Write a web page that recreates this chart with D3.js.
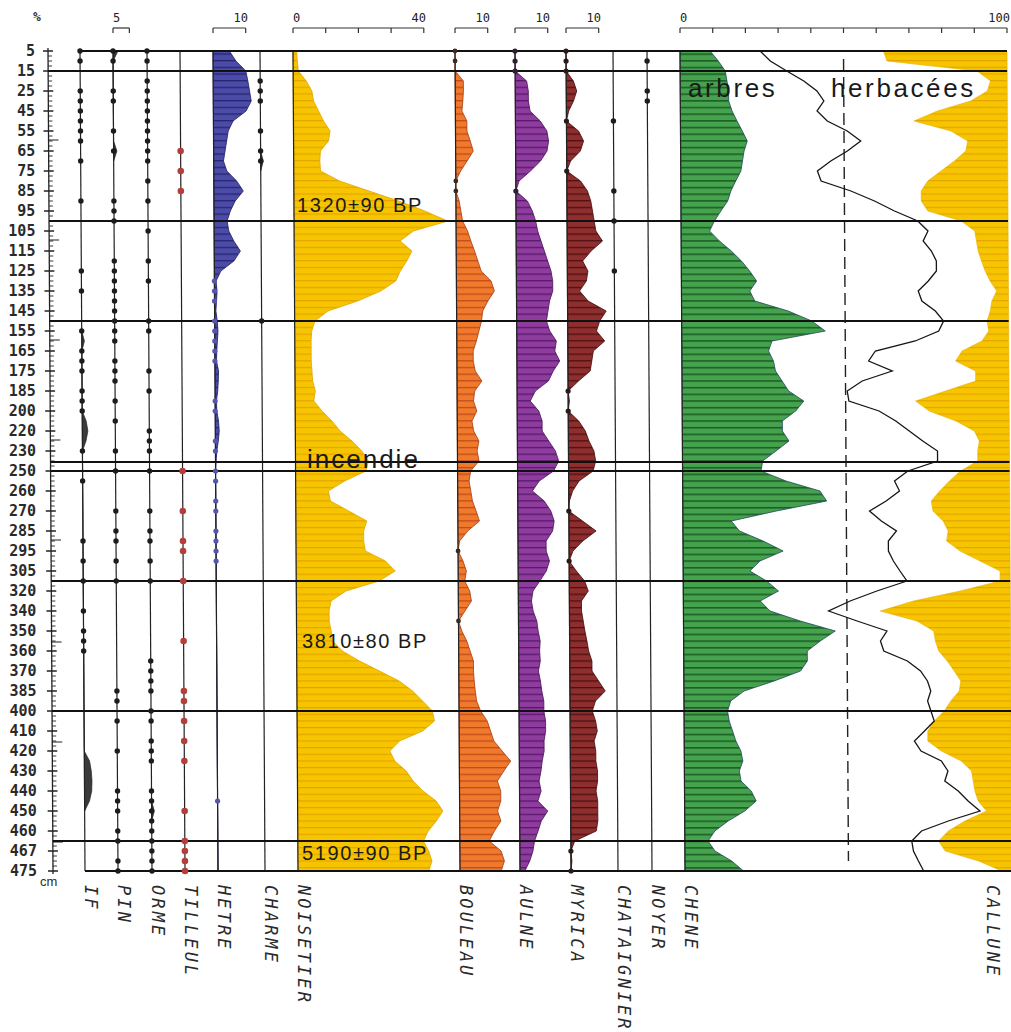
<!DOCTYPE html>
<html>
<head>
<meta charset="utf-8">
<script src="https://cdn.jsdelivr.net/npm/d3@7"></script>
<style>
body { margin: 0; background: #fff; }
svg { display: block; }
</style>
</head>
<body>
<div id="chart"></div>
<script>
var W = 1011, H = 1032;

// depth labels (cm), one every second sample level
var depthLabels = ["5","15","25","45","55","65","75","85","95","105","115","125","135","145","155","165","175","185","200","220","230",
    "250","260","270","285","295","305","320","340","350","360","370","385","400","410","420","430","440","450","460","467","475"];

// zone boundaries, in sample levels
var zoneLines = [2, 17, 27, 41.1, 42, 53, 66, 79];
var longTicks = [8.9, 18.9, 28.9, 38.9, 48.9, 59.1, 69.1, 79.1];

// percentages at each of the 83 sample levels
var hetre = [5,7,10,10.6,11.1,11.6,10,6,4.5,4,
    3.5,3,4,7,9,6.5,5,4,4.5,6,
    8,6,2,0.5,0.8,0.6,0.4,0.8,1,0.8,
    0.6,0.5,1.1,1,0.8,0.4,0.5,1,1.2,0.9,
    0.4,0.2,0,0,0,0,0,0,0,0,
    0,0,0,0,0,0,0,0,0,0,
    0,0,0,0,0,0,0,0,0,0,
    0,0,0,0,0,0,0,0,0,0,
    0,0,0];
var noisetier = [1.1,1.3,1.6,4,5.7,6.2,7.7,9.2,11.2,10.7,
    8.2,8,8.2,14,23,32,40,47,36.5,32.4,
    36,34.4,32.4,31,26.4,19.3,10.2,6.2,5.2,5,
    5,5,5.2,5.4,6.2,5.7,8.2,11.2,13.7,17.3,
    20.3,22.3,21.5,15,10,10.6,16.2,21.7,20.7,20.7,
    21.2,27.3,30.3,25.3,15.2,10.6,10,10,10.6,11,
    14,19.2,25.3,31.3,35.4,38.4,41.4,42,38.4,31.3,
    28.3,29.8,33.3,35.4,38.4,42.4,44.4,42.4,39.9,38.4,
    40,41,40];
var bouleau = [0,0,0,2.5,2.5,2.3,2,3.5,3.5,4.5,
    5.4,3.5,1.5,0,0,1,1.5,2,3.5,4.5,
    5.6,6.6,7.6,10.6,11.6,9.6,8,7.6,6.8,6,
    5,5,5.6,7.6,5.4,5,6,4.5,5,6.6,
    6,6.6,4,3.5,4,4.5,5.6,6.6,3,0.5,
    0,1.5,2.5,2,3.5,4,2,0,1,2.5,
    3.5,4.5,4.5,4.7,5,5.4,6.6,8.6,9.6,10.6,
    13.1,15.7,13.6,11.6,12.6,12.6,11.6,12.6,10.6,9,
    12.6,13.6,12.6];
var aulne = [0,0,0,3.5,4,4,4.5,7.6,9.6,10.1,
    9.6,7.6,4.5,1,0,3.5,5,6,6.6,7.6,
    8.6,9.6,10.6,11.1,11.1,10.1,9.6,9.1,10.1,12.1,
    11.6,13.1,11.1,9.6,5.6,4,6.6,7.6,7.6,9.6,
    11.6,12.6,11,6.6,4.5,8.1,10.1,11.1,10.6,8.6,
    8.6,9.6,8.6,6.6,4.5,4,4.5,5.6,6,6.6,
    6.4,6.6,6,6.6,7,7.6,7.6,8.1,8.1,7.6,
    7.6,7,6.6,6,6.6,5.6,8.6,6.6,5.6,4.5,
    4,3,1.5];
var myrica = [0,0,0,2.2,3.2,2.2,0.7,0,3.7,5.2,
    4.2,1.2,0,4.2,6.3,7.3,7.8,8.3,8.8,10.8,
    7.3,4.7,6.3,5.8,3.7,6.3,11.8,9.8,8.8,11.3,
    7.8,7.3,6.8,3.2,0,0.4,0,3.2,5.2,6.3,
    7.8,8.3,7.5,3.2,1.2,0.2,0,4.2,8.3,4.2,
    1.2,0,2.2,4.7,5.8,3.7,3.7,4.2,4.7,5.3,
    5.8,6.8,6.8,8.8,10.8,7.8,6.8,7.8,8.3,7.3,
    7.8,7.8,8.3,8.3,7.8,8.3,8.3,8.3,7.8,1.2,
    0,0.3,0];
var chene = [9.2,11.7,13.8,14.3,14.8,14.8,15.8,17.3,18.9,20.4,
    19.4,18.9,18.4,16.8,15.3,14.3,12.2,10.2,8.7,11.7,
    15.3,18.4,20.9,23,20.9,22.4,32.6,39.8,43.9,27.6,
    26.5,28,28.6,30.6,32.6,37.2,34.7,30.6,30.6,32.6,
    28.6,24.5,24,31.6,42,44,28.6,14.8,17.3,24.5,
    30.6,23.5,20.4,25.5,29.1,23.5,26.5,35.7,46.4,41.8,
    37.8,37.8,35.7,27.6,18.4,14.3,13.3,13.8,14.8,15.8,
    17.3,17.9,16.8,17.3,20.4,21.9,18.4,13.3,9.2,7.1,
    9.2,14.3,17.9];
var arbres = [24.5,27.6,32.6,37.8,41.8,43.9,41.8,44.9,51,55.1,
    51,45.9,41.8,42.9,52,59.2,65.3,72.4,75.5,74,
    76.5,78,78,75.5,72.4,73.5,77.6,80.1,78.6,71.4,
    59.2,57.1,64.3,55.1,50.5,51,60.2,65.3,69.4,73.5,
    78,78,68.9,64.8,66.3,62.2,57.1,60.7,65.3,62.8,
    62.8,64.3,66.3,68.4,59.2,51,44.4,53.1,62.2,60.2,
    61.2,68.4,72.4,74.5,75.5,74.5,75.5,76.5,73.5,70.4,
    72.4,78.6,80.6,79.6,83.7,86.7,90.3,80.6,72.4,69.4,
    69.9,71.4,73];
var callune = [37.8,36.7,9.2,5.1,6.1,11.2,21.4,28.6,17.3,12.2,
    12.8,16.3,20.4,24.5,26.5,26.5,24.5,14.3,10.2,9.7,
    9.2,8.2,7.1,5.6,3.6,5.1,5.6,6.6,6.1,8.2,
    14.3,16.3,10.2,10.2,19.4,28.6,24.5,16.3,10.7,9.2,
    9.7,9.7,15,18.4,21.4,24,23.5,20.4,18.9,19.4,
    15.3,9.2,3.1,3.1,15.3,29.6,39.8,28.6,23.5,23,
    22,19.4,17.3,15.3,15.8,18.4,20.4,23.5,25.5,25.5,
    21.4,15.3,12.2,11.7,11.2,10.2,7.7,14.3,19.4,22.4,
    20.4,10.2,3.1];

// small traces of rare taxa: [level, %]
var ifTrace = [[28,0],[29,0.8],[30,0],[36,0],[37,1.2],[38,1.7],[39,1.1],[40,0],
    [70,0],[71,1.6],[72,2.1],[73,2.3],[74,2.2],[75,1.5],[76,0]];
var pinTrace = [[0,1.5],[1,0],[9,0],[10,1],[11,0]];
var ormeTrace = [[75,0],[76,0.8],[77,0]];
var charmeTrace = [[10,0],[11,0.8],[12,0]];

// presence dots (sample levels)
var ifDots = [0,1,4,5,6,7,8,9,11,15,22,24,28,30,31,32,34,35,36,40,43,49,51,53,56,58,59,60];
var pinDots = [0,1,4,5,8,10,15,16,17,21,22,23,24,25,26,27,28,29,31,32,33,35,37,40,42,46,48,49,51,53,
    64,65,67,70,74,75,76,78,79,81,82];
var ormeDots = [0,1,3,4,5,6,7,8,9,10,11,13,15,18,21,23,27,28,32,34,38,39,40,42,46,48,49,51,53,
    61,62,63,64,66,67,69,70,71,74,75,76,77,78,79,80,81,82];
var tilleulDots = [10,12,14,42,46,49,50,53,59,64,65,67,69,71,76,79,80,81,82];
var hetreDots = [23,24,25,27,28,29,30,31,35,36,39,40,42,43,45,46,48,49,50,51,75];
var charmeDots = [3,4,5,8,10,11,27];
var bouleauDots = [0,1,13,14,50,57];
var aulneDots = [0,1,2,14];
var myricaDots = [0,1,2,7,12,34,36,46,51,80,82];
var chataignierDots = [7,14,17,22];
var noyerDots = [1,4,5];

var taxa = ["IF","PIN","ORME","TILLEUL","HETRE","CHARME","NOISETIER","BOULEAU","AULNE","MYRICA","CHATAIGNIER","NOYER","CHENE","CALLUNE"];
var colX = {IF:80, PIN:113, ORME:147, TILLEUL:180, HETRE:213, CHARME:260, NOISETIER:293,
    BOULEAU:455, AULNE:515, MYRICA:566, CHATAIGNIER:613, NOYER:647, CHENE:680, CALLUNE:982};
var rightEdge = 1007;

var y = d3.scaleLinear().domain([0, 82]).range([51, 871]);
var pct = d3.scaleLinear().domain([0, 100]).range([0, 327]);
var shear = function(yy) { return 0.0061 * (yy - 51); };

var svg = d3.select("#chart").append("svg")
    .attr("width", W)
    .attr("height", H);
svg.append("rect").attr("width", W).attr("height", H).attr("fill", "#fff");

var defs = svg.append("defs");
function hatch(id, fill, line, lw) {
    var p = defs.append("pattern")
        .attr("id", id)
        .attr("patternUnits", "userSpaceOnUse")
        .attr("width", 20)
        .attr("height", 6.67);
    p.append("rect").attr("width", 20).attr("height", 6.67).attr("fill", fill);
    p.append("rect").attr("width", 20).attr("height", lw).attr("fill", line);
}
hatch("h-yellow", "#f6c500", "#e4a400", 1.2);
hatch("h-blue", "#4c4ca8", "#25256f", 1.3);
hatch("h-orange", "#f07a2c", "#c24a1a", 1.3);
hatch("h-purple", "#8f3c9f", "#57186a", 1.3);
hatch("h-red", "#8e2e2e", "#4f1010", 1.3);
hatch("h-green", "#45a24d", "#1d5f27", 1.6);

var g = svg.append("g")
    .attr("transform", "translate(-0.31,0) skewX(0.35)");

function curve(x0, vals, fill, stroke) {
    var area = d3.area()
        .x0(x0)
        .x1(function(d) { return x0 + pct(d); })
        .y(function(d, i) { return y(i); });
    g.append("path").datum(vals)
        .attr("d", area)
        .attr("fill", fill)
        .attr("stroke", stroke)
        .attr("stroke-width", 0.8)
        .attr("stroke-linejoin", "round");
}
function trace(x0, pairs, fill) {
    var area = d3.area()
        .x0(x0)
        .x1(function(d) { return x0 + pct(d[1]); })
        .y(function(d) { return y(d[0]); });
    g.append("path").datum(pairs)
        .attr("d", area)
        .attr("fill", fill)
        .attr("stroke", "#222")
        .attr("stroke-width", 0.7);
}

// filled curves
curve(colX.HETRE, hetre, "url(#h-blue)", "#1e1e60");
curve(colX.NOISETIER, noisetier, "url(#h-yellow)", "#e3a600");
curve(colX.BOULEAU, bouleau, "url(#h-orange)", "#a83c10");
curve(colX.AULNE, aulne, "url(#h-purple)", "#4a1058");
curve(colX.MYRICA, myrica, "url(#h-red)", "#420a0a");
curve(colX.CHENE, chene, "url(#h-green)", "#1f4a5a");

// callune plotted from the right edge
g.append("path").datum(callune)
    .attr("d", d3.area()
        .x0(rightEdge)
        .x1(function(d) { return colX.CHENE + pct(100 - d); })
        .y(function(d, i) { return y(i); }))
    .attr("fill", "url(#h-yellow)")
    .attr("stroke", "#e8b000")
    .attr("stroke-width", 0.6);

trace(colX.IF, ifTrace, "#3a3a3a");
trace(colX.PIN, pinTrace, "#333");
trace(colX.ORME, ormeTrace, "#333");
trace(colX.CHARME, charmeTrace, "#333");

// vertical baselines
["IF","PIN","ORME","TILLEUL","HETRE","CHARME","NOISETIER","BOULEAU","AULNE","MYRICA","CHATAIGNIER","NOYER","CHENE"].forEach(function(t) {
    g.append("line")
        .attr("x1", colX[t]).attr("x2", colX[t])
        .attr("y1", y(0)).attr("y2", y(82))
        .attr("stroke", "#222")
        .attr("stroke-width", 1.2);
});

// 50% dashed line
g.append("line")
    .attr("x1", colX.CHENE + pct(50)).attr("x2", colX.CHENE + pct(50))
    .attr("y1", y(0.8)).attr("y2", y(81))
    .attr("stroke", "#222")
    .attr("stroke-width", 1.4)
    .attr("stroke-dasharray", "12,6");

// arbres line
g.append("path").datum(arbres)
    .attr("d", d3.line()
        .x(function(d) { return colX.CHENE + pct(d); })
        .y(function(d, i) { return y(i); }))
    .attr("fill", "none")
    .attr("stroke", "#151515")
    .attr("stroke-width", 1.3);

// depth axis
g.append("line")
    .attr("x1", 48).attr("x2", 48)
    .attr("y1", y(0) - 3).attr("y2", y(82) + 3)
    .attr("stroke", "#222").attr("stroke-width", 1.3);
d3.range(0, 82.5, 0.5).forEach(function(k) {
    var major = (k % 2 === 0);
    g.append("line")
        .attr("x1", major ? 43 : 48).attr("x2", major ? 53 : 52)
        .attr("y1", y(k)).attr("y2", y(k))
        .attr("stroke", "#222").attr("stroke-width", major ? 1.3 : 0.9);
});
longTicks.forEach(function(k) {
    g.append("line")
        .attr("x1", 48).attr("x2", 58)
        .attr("y1", y(k)).attr("y2", y(k))
        .attr("stroke", "#222").attr("stroke-width", 1);
});

// zone lines, top and bottom frame
zoneLines.forEach(function(k) {
    g.append("line")
        .attr("x1", 48).attr("x2", rightEdge)
        .attr("y1", y(k)).attr("y2", y(k))
        .attr("stroke", "#111").attr("stroke-width", 1.8);
});
[0, 82].forEach(function(k) {
    g.append("line")
        .attr("x1", colX.IF).attr("x2", rightEdge)
        .attr("y1", y(k)).attr("y2", y(k))
        .attr("stroke", "#111").attr("stroke-width", 1.8);
});

// presence dots
function dots(x0, list, color, r) {
    g.selectAll(null).data(list).enter().append("circle")
        .attr("cx", x0)
        .attr("cy", function(d) { return y(d); })
        .attr("r", r)
        .attr("fill", color);
}
dots(colX.IF, ifDots, "#1c1c1c", 2.7);
dots(colX.PIN, pinDots, "#1c1c1c", 2.7);
dots(colX.ORME, ormeDots, "#1c1c1c", 2.7);
dots(colX.TILLEUL, tilleulDots, "#b33e3a", 3.3);
dots(colX.HETRE, hetreDots, "#5656ac", 2.6);
dots(colX.CHARME, charmeDots, "#1c1c1c", 2.7);
dots(colX.BOULEAU, bouleauDots, "#3a2a20", 2.4);
dots(colX.AULNE, aulneDots, "#2a2030", 2.6);
dots(colX.MYRICA, myricaDots, "#2a1a1a", 2.6);
dots(colX.CHATAIGNIER, chataignierDots, "#1c1c1c", 2.7);
dots(colX.NOYER, noyerDots, "#1c1c1c", 2.7);

// top scales
var scaleY = 28;
function bracket(x0, maxPct, ticks) {
    svg.append("line")
        .attr("x1", x0).attr("x2", x0 + pct(maxPct))
        .attr("y1", scaleY).attr("y2", scaleY)
        .attr("stroke", "#333").attr("stroke-width", 1.2);
    ticks.forEach(function(t) {
        svg.append("line")
            .attr("x1", x0 + pct(t)).attr("x2", x0 + pct(t))
            .attr("y1", scaleY).attr("y2", scaleY + 5)
            .attr("stroke", "#333").attr("stroke-width", 1.2);
    });
}
bracket(colX.PIN, 5, [0, 5]);
bracket(colX.HETRE, 10, [0, 10]);
bracket(colX.NOISETIER, 40, [0, 10, 20, 30, 40]);
bracket(colX.BOULEAU, 10, [0, 10]);
bracket(colX.AULNE, 10, [0, 10]);
bracket(colX.MYRICA, 10, [0, 10]);
bracket(colX.CHENE, 100, d3.range(0, 101, 10));

var scaleLabels = [
    {x: 113, t: "5", a: "start"},
    {x: 248, t: "10", a: "end"},
    {x: 293, t: "0", a: "start"},
    {x: 426, t: "40", a: "end"},
    {x: 490, t: "10", a: "end"},
    {x: 550, t: "10", a: "end"},
    {x: 601, t: "10", a: "end"},
    {x: 680, t: "0", a: "start"},
    {x: 1010, t: "100", a: "end"}
];
svg.selectAll(null).data(scaleLabels).enter().append("text")
    .attr("x", function(d) { return d.x; })
    .attr("y", 21.5)
    .attr("text-anchor", function(d) { return d.a; })
    .attr("font-family", "DejaVu Sans Mono, monospace")
    .attr("font-size", 12)
    .attr("fill", "#222")
    .text(function(d) { return d.t; });

svg.append("text")
    .attr("x", 37).attr("y", 21)
    .attr("text-anchor", "middle")
    .attr("font-family", "DejaVu Sans Mono, monospace")
    .attr("font-weight", "bold")
    .attr("font-size", 13)
    .attr("fill", "#333")
    .text("%");

// depth labels
depthLabels.forEach(function(lab, i) {
    var yy = y(i * 2);
    svg.append("text")
        .attr("x", 35 + 0.4 * shear(yy))
        .attr("y", yy + 5)
        .attr("text-anchor", "end")
        .attr("font-family", "DejaVu Sans Mono, monospace")
        .attr("font-weight", "bold")
        .attr("font-size", 15)
        .attr("fill", "#2a2a2a")
        .text(lab);
});
svg.append("text")
    .attr("x", 40).attr("y", 886)
    .attr("font-family", "Liberation Sans, Arial, sans-serif")
    .attr("font-size", 13)
    .attr("fill", "#2a2a2a")
    .text("cm");

// taxa names, rotated
taxa.forEach(function(t) {
    svg.append("text")
        .attr("transform", "translate(" + (colX[t] + 5) + ",885) rotate(90)")
        .attr("font-family", "DejaVu Sans Mono, monospace")
        .attr("font-style", "italic")
        .attr("font-size", 17)
        .attr("letter-spacing", 3.1)
        .attr("fill", "#2a2a2a")
        .text(t);
});

// annotations
var notes = [
    {x: 297, y: 212, t: "1320\u00b190 BP", s: 20, ls: 1.6},
    {x: 302, y: 648, t: "3810\u00b180 BP", s: 20, ls: 1.6},
    {x: 302, y: 860, t: "5190\u00b190 BP", s: 20, ls: 1.6},
    {x: 307, y: 468, t: "incendie", s: 26, ls: 2},
    {x: 688, y: 97, t: "arbres", s: 26, ls: 2.6},
    {x: 831, y: 97, t: "herbac\u00e9es", s: 26, ls: 2.6}
];
svg.selectAll(null).data(notes).enter().append("text")
    .attr("x", function(d) { return d.x; })
    .attr("y", function(d) { return d.y; })
    .attr("font-family", "Liberation Sans, Arial, sans-serif")
    .attr("font-size", function(d) { return d.s; })
    .attr("letter-spacing", function(d) { return d.ls; })
    .attr("fill", "#1a1a1a")
    .text(function(d) { return d.t; });
</script>
</body>
</html>
